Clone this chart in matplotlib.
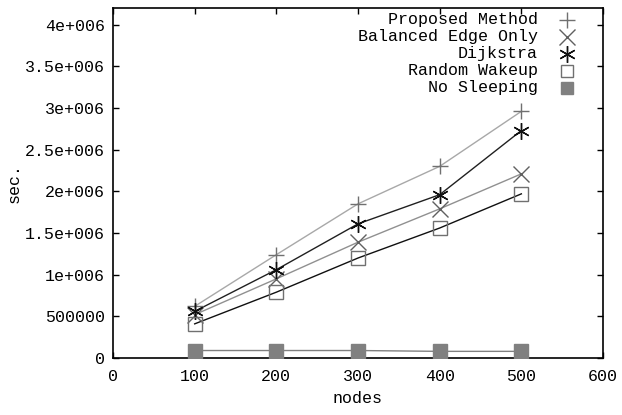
import matplotlib
matplotlib.use('Agg')
import matplotlib.pyplot as plt
from matplotlib.ticker import FixedLocator

plt.rcParams['font.family'] = 'Liberation Mono'

nodes = [100, 200, 300, 400, 500]
proposed = [620000, 1240000, 1850000, 2300000, 2960000]
balanced = [520000, 950000, 1390000, 1790000, 2210000]
dijkstra = [560000, 1060000, 1610000, 1960000, 2730000]
random_wakeup = [410000, 790000, 1200000, 1560000, 1970000]
no_sleeping = [90000, 90000, 90000, 80000, 80000]

labels = ['Proposed Method', 'Balanced Edge Only', 'Dijkstra', 'Random Wakeup', 'No Sleeping']
yticks = [0, 500000, 1000000, 1500000, 2000000, 2500000, 3000000, 3500000, 4000000]
ytick_labels = ['0', '500000', '1e+006', '1.5e+006', '2e+006', '2.5e+006', '3e+006', '3.5e+006', '4e+006']

fig = plt.figure(figsize=(6.22, 4.15), dpi=100)
ax = fig.add_axes([0.1817, 0.1373, 0.7878, 0.8434])

# style par série : (couleur ligne, marqueur, couleur marqueur, taille, remplissage)
styles = [
    ('#a8a8a8', '+', '#707070', 12, 'none'),
    ('#909090', 'x', '#606060', 11, 'none'),
    ('#202020', (6, 2, 0), '#101010', 12, 'none'),
    ('#101010', 's', '#707070', 10, 'none'),
    ('#808080', 's', '#808080', 10, '#808080'),
]
series = [proposed, balanced, dijkstra, random_wakeup, no_sleeping]

for vals, (lc, mk, mc, ms, fc) in zip(series, styles):
    ax.plot(nodes, vals, color=lc, lw=1.0, zorder=2)
    ax.plot(nodes, vals, ls='none', marker=mk, ms=ms, mec=mc,
            mfc=fc, mew=1.0, zorder=3)

ax.set_xlim(0, 600)
ax.set_ylim(0, 4200000)
ax.xaxis.set_major_locator(FixedLocator([0, 100, 200, 300, 400, 500, 600]))
ax.set_yticks(yticks)
ax.set_yticklabels(ytick_labels)
ax.tick_params(direction='in', length=4, width=1, top=True, right=True,
               labelsize=12, colors='black')
ax.tick_params(axis='x', pad=8)
ax.tick_params(axis='y', pad=6)
for s in ax.spines.values():
    s.set_linewidth(1.2)

ax.set_xlabel('nodes', fontsize=12, labelpad=5)
ax.set_ylabel('sec.', fontsize=12, labelpad=2)

# légende à la gnuplot : texte aligné à droite, symbole à droite
for i, (lab, (lc, mk, mc, ms, fc)) in enumerate(zip(labels, styles)):
    yy = 0.966 - i * 0.0486
    ax.text(0.867, yy, lab, transform=ax.transAxes, ha='right', va='center',
            fontsize=12)
    ax.plot([0.927], [yy], transform=ax.transAxes, ls='none', marker=mk,
            ms=ms if mk != 's' else 8, mec=mc, mfc=fc, mew=1.0, clip_on=False)

fig.savefig('out.png', dpi=100)
